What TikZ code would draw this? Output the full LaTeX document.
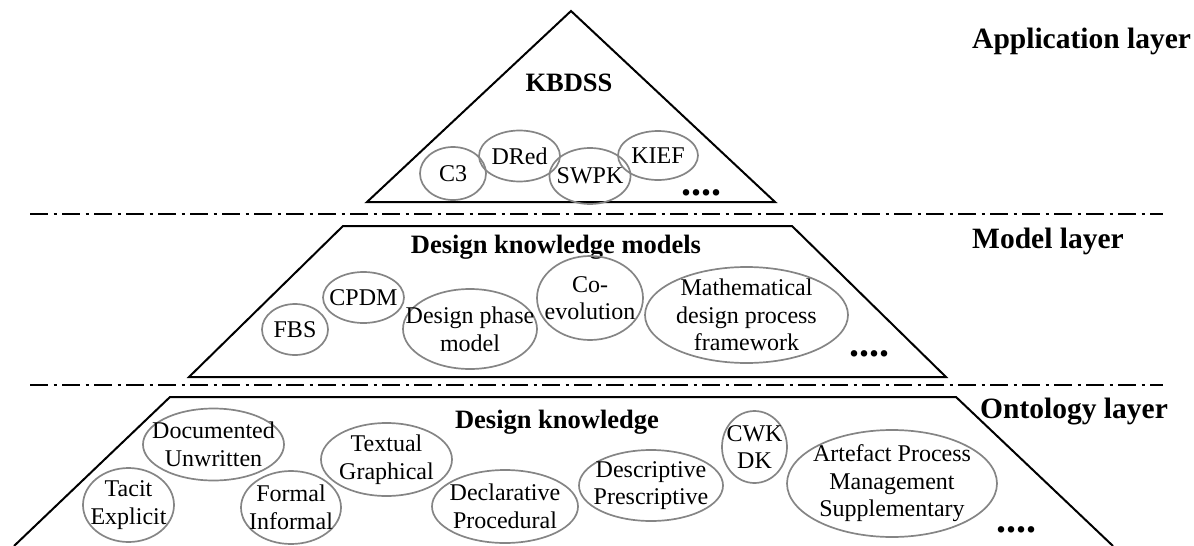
\documentclass[tikz,border=0pt]{standalone}
\usepackage{fontspec}
\setmainfont{Liberation Serif}
\usetikzlibrary{shapes.geometric}
\begin{document}
\begin{tikzpicture}[x=1pt,y=-1pt,
  layer/.style={draw=black, line width=2pt, line join=miter},
  sepline/.style={draw=black, line width=2pt, dash pattern=on 18pt off 5.5pt on 3pt off 5.5pt},
  kn/.style={ellipse, draw=black!48, line width=1.7pt, inner sep=0pt, fill=none},
  etext/.style={align=center, inner sep=0pt, font=\fontsize{24}{27.6}\selectfont},
  ttl/.style={font=\fontsize{26.5}{29}\selectfont\bfseries, inner sep=0pt},
  lbl/.style={font=\fontsize{29.5}{32}\selectfont\bfseries, inner sep=0pt},
  more/.style={font=\fontsize{40}{42}\selectfont\bfseries, inner sep=0pt}
]
\useasboundingbox (0,0) rectangle (1194,546);

% layers
\draw[layer] (367,202) -- (571,11) -- (775,202) -- cycle;
\draw[layer] (189,377) -- (343,226) -- (792,226) -- (946,377) -- cycle;
\draw[layer] (14,546) -- (170,397) -- (956,397) -- (1113,546);

% separators
\coordinate (s1a) at (30,214); \coordinate (s1b) at (1163,214);
\coordinate (s2a) at (30,385); \coordinate (s2b) at (1163,385);
\draw[sepline] (s1a) -- (s1b);
\draw[sepline] (s2a) -- (s2b);

% labels
\node[lbl, anchor=base west] (app) at (972,48) {Application layer};
\node[lbl, anchor=base west] (mod) at (972,248) {Model layer};
\node[lbl, anchor=base west] (ont) at (980,418) {Ontology layer};

% application layer
\node[ttl] (kbdss) at (569,83) {KBDSS};
\node[kn, minimum width=66pt, minimum height=53pt, label={[etext]center:C3}] (c3) at (453,173.5) {};
\node[kn, minimum width=81pt, minimum height=51pt, label={[etext]center:DRed}] (dred) at (519.5,156) {};
\node[kn, minimum width=81pt, minimum height=56pt, label={[etext]center:SWPK}] (swpk) at (590,176) {};
\node[kn, minimum width=80pt, minimum height=49pt, label={[etext]center:KIEF}] (kief) at (658,155.5) {};
\node[more, anchor=base] (m1) at (701,195) {....};

% model layer
\node[ttl] (dkm) at (556,247) {Design knowledge models};
\node[kn, minimum width=66pt, minimum height=51pt, label={[etext]center:FBS}] (fbs) at (295,329.5) {};
\node[kn, minimum width=81pt, minimum height=51pt, label={[etext]center:CPDM}] (cpdm) at (363.5,297.5) {};
\node[kn, minimum width=134pt, minimum height=80pt, label={[etext]center:Design phase\\model}] (dpm) at (470,329) {};
\node[kn, minimum width=106pt, minimum height=84pt, label={[etext]center:Co-\\evolution}] (coev) at (590,298) {};
\node[kn, minimum width=203pt, minimum height=96pt, label={[etext]center:Mathematical\\design process\\framework}] (math) at (746.5,315) {};
\node[more, anchor=base] (m2) at (869,356) {....};

% ontology layer
\node[ttl] (dk) at (557,422) {Design knowledge};
\node[kn, minimum width=91pt, minimum height=74pt, label={[etext]center:Tacit\\Explicit}] (tac) at (128.5,505) {};
\node[kn, minimum width=141pt, minimum height=72pt, label={[etext]center:Documented\\Unwritten}] (doc) at (213.5,444.5) {};
\node[kn, minimum width=100pt, minimum height=73pt, label={[etext]center:Formal\\Informal}] (for) at (291,507.5) {};
\node[kn, minimum width=131pt, minimum height=73pt, label={[etext]center:Textual\\Graphical}] (tex) at (386.5,459.5) {};
\node[kn, minimum width=146pt, minimum height=73pt, label={[etext]center:Declarative\\Procedural}] (dec) at (505,506.5) {};
\node[kn, minimum width=144pt, minimum height=71pt, label={[etext]center:Descriptive\\Prescriptive}] (des) at (651,485.5) {};
\node[kn, minimum width=65pt, minimum height=72pt, label={[etext]center:CWK\\DK}] (cwk) at (754.5,447) {};
\node[kn, minimum width=210pt, minimum height=107pt, label={[etext]center:Artefact Process\\Management\\Supplementary}] (art) at (892,483.5) {};
\node[more, anchor=base] (m3) at (1016,532) {....};
\end{tikzpicture}
\end{document}
